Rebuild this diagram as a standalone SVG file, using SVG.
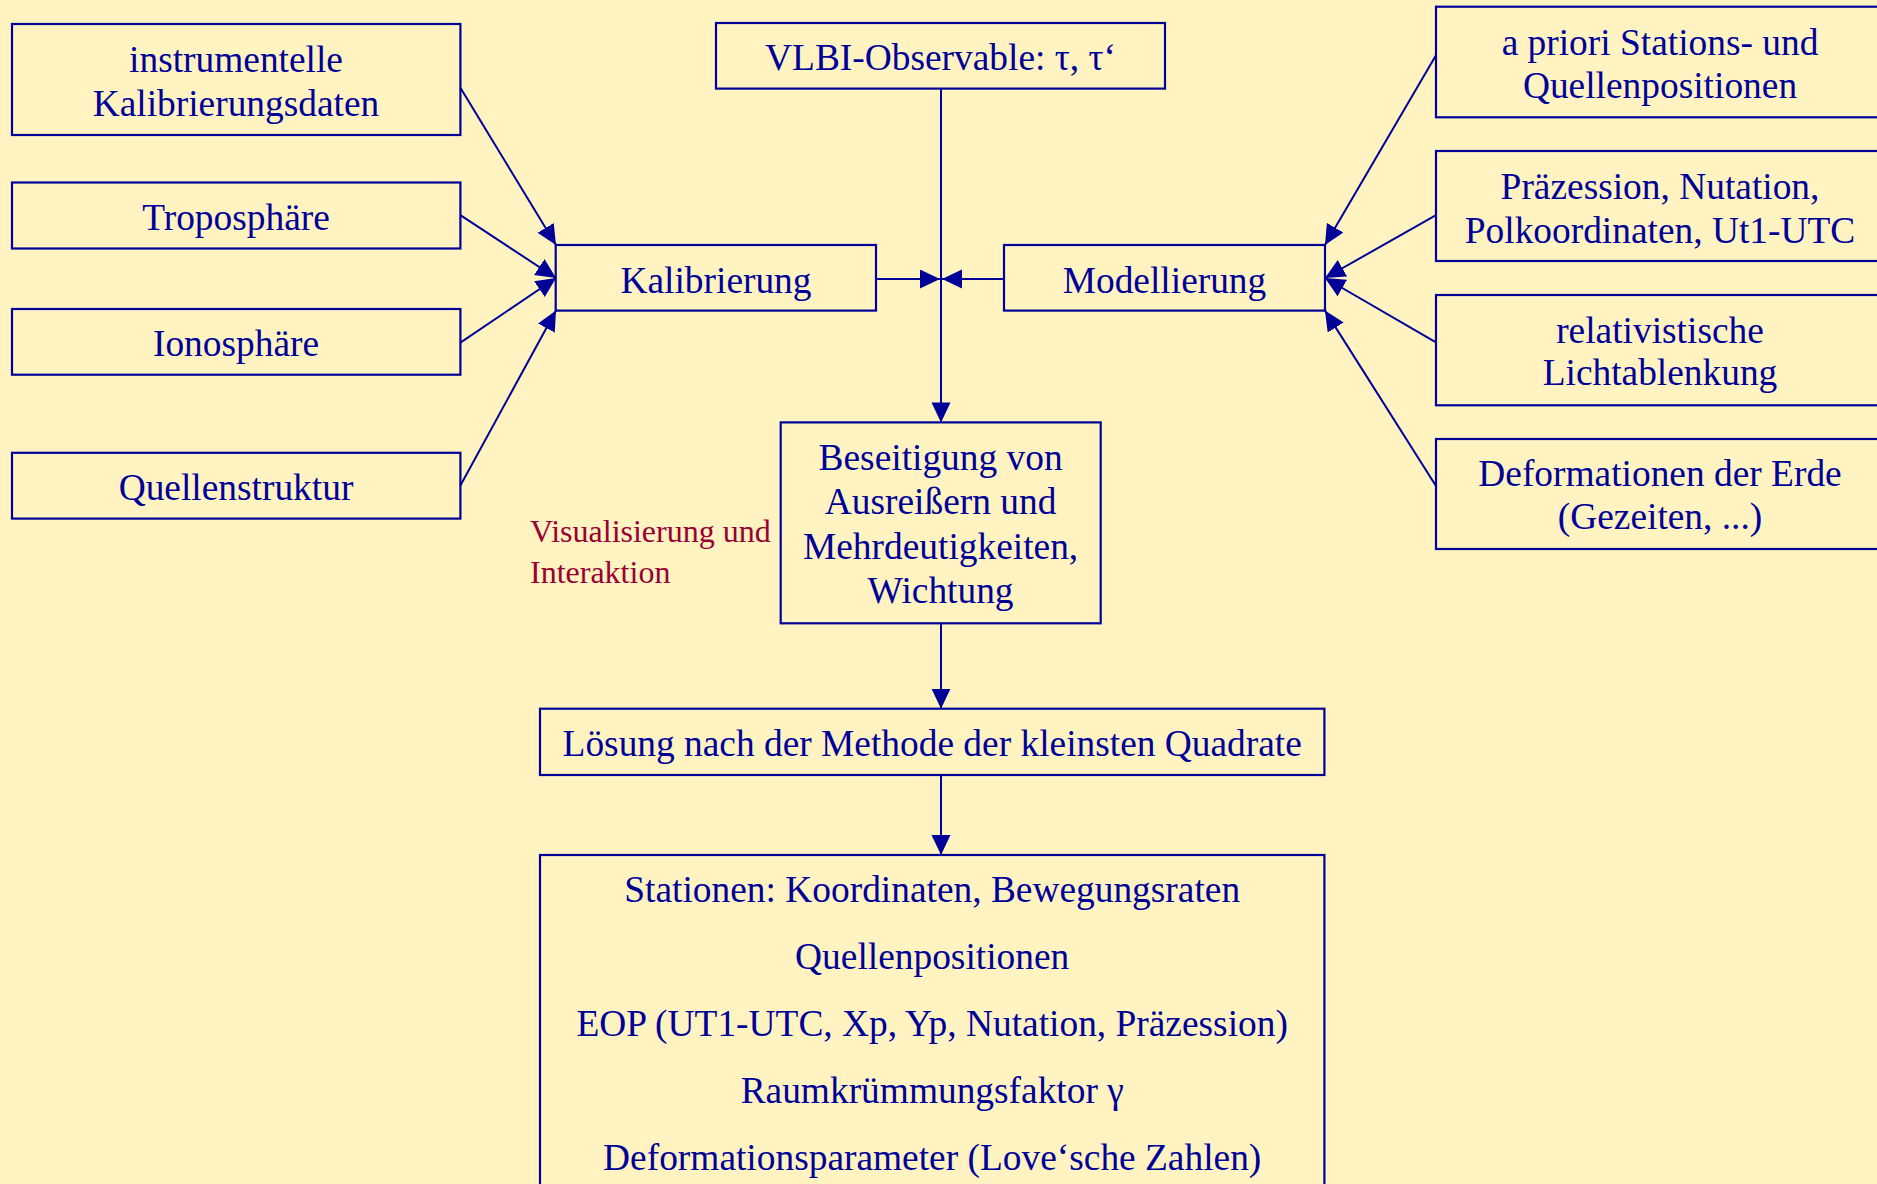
<svg xmlns="http://www.w3.org/2000/svg" width="1877" height="1184" viewBox="0 0 1877 1184">
<defs>
<style>
.box{fill:none;stroke:#000099;stroke-width:2.2}
.t{font-family:"Liberation Serif","Times New Roman",serif;font-size:37.4px;fill:#000099;text-anchor:middle}
.r{font-family:"Liberation Serif","Times New Roman",serif;font-size:32px;fill:#990033}
.c{fill:none;stroke:#000099;stroke-width:2}
</style>
<marker id="ah" markerUnits="userSpaceOnUse" markerWidth="21" markerHeight="20" refX="20" refY="9.5" orient="auto">
<path d="M0,0 L20,9.5 L0,19 Z" fill="#000099"/>
</marker>
</defs>
<rect x="0" y="0" width="1877" height="1184" fill="#FFF3C1"/>

<g id="connectors">
<line class="c" x1="460.4" y1="87.8" x2="556" y2="245" marker-end="url(#ah)"/>
<line class="c" x1="460.4" y1="215.2" x2="556" y2="278" marker-end="url(#ah)"/>
<line class="c" x1="460.4" y1="342.6" x2="556" y2="278" marker-end="url(#ah)"/>
<line class="c" x1="460.4" y1="485.5" x2="556" y2="310.6" marker-end="url(#ah)"/>
<line class="c" x1="1436" y1="55.3" x2="1325" y2="245" marker-end="url(#ah)"/>
<line class="c" x1="1436" y1="215.2" x2="1325" y2="278" marker-end="url(#ah)"/>
<line class="c" x1="1436" y1="342.4" x2="1325" y2="278" marker-end="url(#ah)"/>
<line class="c" x1="1436" y1="486" x2="1325" y2="310.6" marker-end="url(#ah)"/>
<line class="c" x1="876" y1="279" x2="940" y2="279" marker-end="url(#ah)"/>
<line class="c" x1="1004" y1="279" x2="942" y2="279" marker-end="url(#ah)"/>
<line class="c" x1="941" y1="88.6" x2="941" y2="422.4" marker-end="url(#ah)"/>
<line class="c" x1="941" y1="623.3" x2="941" y2="708.7" marker-end="url(#ah)"/>
<line class="c" x1="941" y1="775" x2="941" y2="855" marker-end="url(#ah)"/>
</g>

<g id="instrumentelle">
<rect class="box" x="12" y="24" width="448.4" height="111"/>
<text class="t" x="236" y="71.6">instrumentelle</text>
<text class="t" x="236" y="116.4">Kalibrierungsdaten</text>
</g>
<g id="troposphaere">
<rect class="box" x="12" y="182.5" width="448.4" height="66"/>
<text class="t" x="236" y="230">Troposphäre</text>
</g>
<g id="ionosphaere">
<rect class="box" x="12" y="309" width="448.4" height="65.7"/>
<text class="t" x="236" y="356">Ionosphäre</text>
</g>
<g id="quellenstruktur">
<rect class="box" x="12" y="452.8" width="448.4" height="65.8"/>
<text class="t" x="236" y="500">Quellenstruktur</text>
</g>
<g id="kalibrierung">
<rect class="box" x="555.7" y="245" width="320.3" height="65.6"/>
<text class="t" x="716" y="292.5">Kalibrierung</text>
</g>
<g id="vlbi">
<rect class="box" x="716" y="23" width="449" height="65.6"/>
<text class="t" x="940.5" y="70.2">VLBI-Observable: τ, τ‘</text>
</g>
<g id="modellierung">
<rect class="box" x="1004" y="245" width="321" height="65.6"/>
<text class="t" x="1164.5" y="292.5">Modellierung</text>
</g>
<g id="apriori">
<rect class="box" x="1436" y="6.7" width="460" height="110.6"/>
<text class="t" x="1660" y="55.3">a priori Stations- und</text>
<text class="t" x="1660" y="98.2">Quellenpositionen</text>
</g>
<g id="praezession">
<rect class="box" x="1436" y="151" width="460" height="110"/>
<text class="t" x="1660" y="198.8">Präzession, Nutation,</text>
<text class="t" x="1660" y="242.5">Polkoordinaten, Ut1-UTC</text>
</g>
<g id="relativistische">
<rect class="box" x="1436" y="295" width="460" height="110.3"/>
<text class="t" x="1660" y="342.5">relativistische</text>
<text class="t" x="1660" y="385.4">Lichtablenkung</text>
</g>
<g id="deformationen">
<rect class="box" x="1436" y="439" width="460" height="110"/>
<text class="t" x="1660" y="486.1">Deformationen der Erde</text>
<text class="t" x="1660" y="528.5">(Gezeiten, ...)</text>
</g>
<g id="beseitigung">
<rect class="box" x="780.7" y="422.4" width="320" height="200.9"/>
<text class="t" x="940.6" y="470.2">Beseitigung von</text>
<text class="t" x="940.6" y="514.3">Ausreißern und</text>
<text class="t" x="940.6" y="559.2">Mehrdeutigkeiten,</text>
<text class="t" x="940.6" y="602.8">Wichtung</text>
</g>
<g id="visualisierung">
<text class="r" x="530" y="541.5">Visualisierung und</text>
<text class="r" x="530" y="582.5">Interaktion</text>
</g>
<g id="loesung">
<rect class="box" x="540" y="708.7" width="784.4" height="66.3"/>
<text class="t" x="932.2" y="756">Lösung nach der Methode der kleinsten Quadrate</text>
</g>
<g id="ergebnisse">
<rect class="box" x="540" y="855" width="784.4" height="400"/>
<text class="t" x="932.2" y="901.8">Stationen: Koordinaten, Bewegungsraten</text>
<text class="t" x="932.2" y="968.8">Quellenpositionen</text>
<text class="t" x="932.2" y="1036.4">EOP (UT1-UTC, Xp, Yp, Nutation, Präzession)</text>
<text class="t" x="932.2" y="1103.3">Raumkrümmungsfaktor γ</text>
<text class="t" x="932.2" y="1169.8">Deformationsparameter (Love‘sche Zahlen)</text>
</g>
</svg>
